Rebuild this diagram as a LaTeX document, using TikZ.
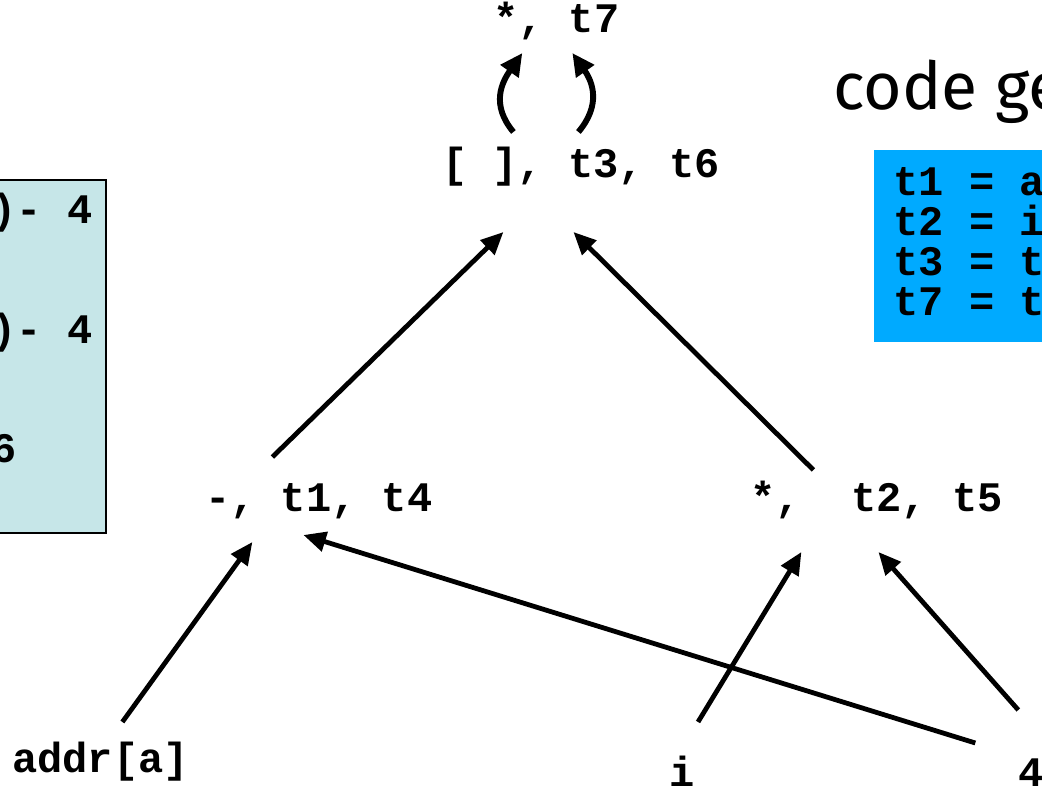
\documentclass[tikz,border=0pt]{standalone}
\usepackage{fontspec}
\setmonofont{Liberation Mono}
\newfontfamily\handfont{Fira Sans}
\usetikzlibrary{arrows.meta}
\definecolor{PaleCyan}{RGB}{198, 230, 232}
\definecolor{SkyBlue}{RGB}{0, 170, 255}

\begin{document}
\begin{tikzpicture}[
    code/.style={font=\ttfamily\bfseries\fontsize{29.9}{28.4}\selectfont, inner sep=0pt, anchor=base west},
    arr/.style={-{Triangle[length=16pt,width=14pt]}, line width=3.4pt},
    bent/.style={-{Triangle[length=16pt,width=15pt]}, line width=4.2pt, looseness=1.15}
  ]
    \clip (0,0) rectangle (26.05,19.7);

    % Source code (cut off at the left)
    \fill[PaleCyan] (-1,6.375) rectangle (2.65,15.2);
    \draw[line width=1.4pt] (-1,6.375) rectangle (2.65,15.2);
    \foreach \ln [count=\k] in {{t1 = addr(a)- 4}, {t2 = i * 4}, {t3 = t1[t2]}, {t4 = addr(a)- 4}, {t5 = i * 4}, {t6 = t4[t5]}, {t7 = t3 * t6}}
      \node[code] (src\k) at (-7.15, {14.1-(\k-1)*0.9925}) {\ln};

    % Generated code (cut off at the right)
    \node[font=\handfont\fontsize{47}{47}\selectfont, anchor=base west, inner sep=0pt] (title) at (20.83,16.95) {code generation};
    \fill[SkyBlue] (21.85,11.15) rectangle (27,15.95);
    \foreach \ln [count=\k] in {{t1 = addr(a)- 4}, {t2 = i * 4}, {t3 = t1[t2]}, {t7 = t3 * t3}}
      \node[code] (gen\k) at (22.33, {14.82-(\k-1)*1.0}) {\ln};

    % DAG nodes
    \node[code] (top) at (12.325,18.875) {*, t7};
    \node[code] (brk) at (11.05,15.25) {[ ], t3, t6};
    \node[code] (sub) at (5.125,6.9) {-, t1, t4};
    \node[code] (mul) at (18.75,6.9) {*, \ t2, t5};
    \node[code] (addr) at (0.3,0.375) {addr[a]};
    \node[code, anchor=base] (i) at (17.05,0.025) {i};
    \node[code] (four) at (25.45,0.025) {4};

    % Edges
    \draw[bent] ([shift={(-1.69,1.15)}]brk.base) to[out=130, in=235] ([shift={(-0.85,-0.5)}]top.base);
    \draw[bent] ([shift={(-0.065,1.15)}]brk.base) to[out=50, in=305] ([shift={(0.4,-0.5)}]top.base);
    \draw[arr] ([shift={(-1.16,1.375)}]sub.base) -- ([shift={(-1.94,-1.35)}]brk.base);
    \draw[arr] ([shift={(-1.575,1.05)}]mul.base) -- ([shift={(-0.19,-1.35)}]brk.base);
    \draw[arr] ([shift={(0.545,1.275)}]addr.base) -- ([shift={(-1.66,-0.75)}]sub.base);
    \draw[arr] ([shift={(0.4,1.625)}]i.base) -- ([shift={(-1.875,-1.0)}]mul.base);
    \draw[arr] ([shift={(-1.39,1.1)}]four.base) -- ([shift={(-0.385,-0.575)}]sub.base);
    \draw[arr] ([shift={(-0.315,1.925)}]four.base) -- ([shift={(0.05,-1.0)}]mul.base);
\end{tikzpicture}
\end{document}
